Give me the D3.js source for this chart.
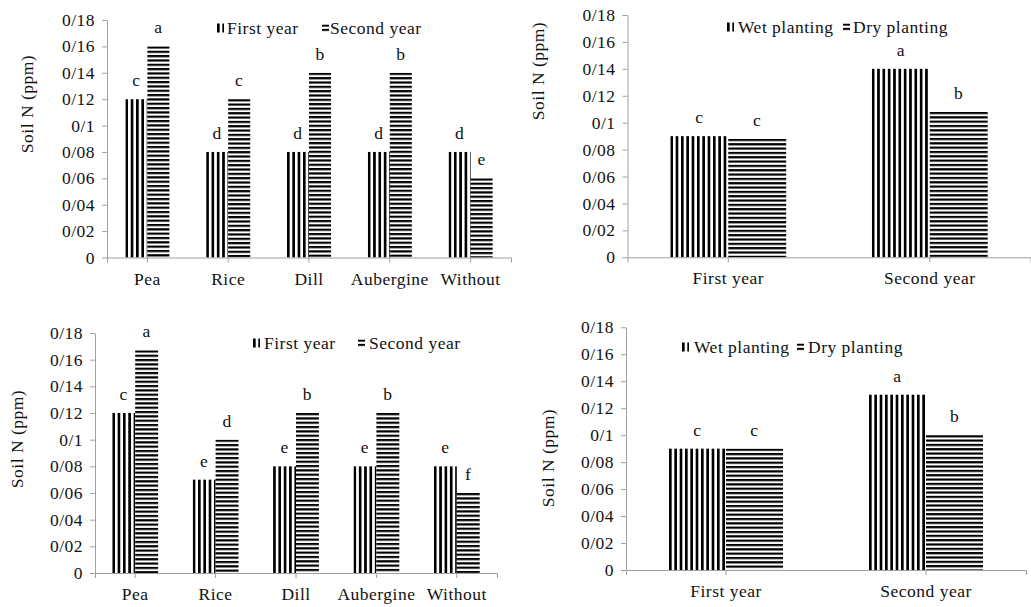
<!DOCTYPE html>
<html>
<head>
<meta charset="utf-8">
<script src="https://cdn.jsdelivr.net/npm/d3@7"></script>
<style>
    body { margin: 0; background: #fff; }
</style>
</head>
<body>
<script>
// categories / series
const cropCats = ["Pea", "Rice", "Dill", "Aubergine", "Without"];
const yearCats = ["First year", "Second year"];
const yearSeries = ["First year", "Second year"];
const plantSeries = ["Wet planting", "Dry planting"];

// y axis ticks (decimal separator is written as "/")
const yTicks = [0, 0.02, 0.04, 0.06, 0.08, 0.1, 0.12, 0.14, 0.16, 0.18];
const yTickLabels = ["0", "0/02", "0/04", "0/06", "0/08", "0/1", "0/12", "0/14", "0/16", "0/18"];

// top left
const tlFirst = [0.12, 0.08, 0.08, 0.08, 0.08];
const tlSecond = [0.16, 0.12, 0.14, 0.14, 0.06];
const tlFirstLetters = ["c", "d", "d", "d", "d"];
const tlSecondLetters = ["a", "c", "b", "b", "e"];

// top right
const trWet = [0.09, 0.14];
const trDry = [0.088, 0.108];
const trWetLetters = ["c", "a"];
const trDryLetters = ["c", "b"];

// bottom left
const blFirst = [0.12, 0.07, 0.08, 0.08, 0.08];
const blSecond = [0.167, 0.1, 0.12, 0.12, 0.06];
const blFirstLetters = ["c", "e", "e", "e", "e"];
const blSecondLetters = ["a", "d", "b", "b", "f"];

// bottom right
const brWet = [0.09, 0.13];
const brDry = [0.09, 0.1];
const brWetLetters = ["c", "a"];
const brDryLetters = ["c", "b"];

const yTitle = "Soil N (ppm)";
const axisColor = "#a0a0a0";
const font = "Liberation Serif";

let svg = d3.select("body").append("svg")
    .attr("width", 1031)
    .attr("height", 607)
    .attr("font-family", font);
let defs = svg.append("defs");

let pid = 0;
// stripe pattern anchored at the bar's corner, "v" = vertical lines, "h" = horizontal lines
function stripes(kind, x0, y0) {
    const id = "pat" + (pid++);
    let p = defs.append("pattern")
        .attr("id", id)
        .attr("patternUnits", "userSpaceOnUse")
        .attr("x", x0)
        .attr("y", y0);
    if (kind === "v") {
        p.attr("width", 5.33).attr("height", 10);
        p.append("rect").attr("width", 5.33).attr("height", 10).attr("fill", "#fff");
        p.append("rect").attr("width", 2.67).attr("height", 10).attr("fill", "#000");
    } else {
        p.attr("width", 10).attr("height", 4.33);
        p.append("rect").attr("width", 10).attr("height", 4.33).attr("fill", "#fff");
        p.append("rect").attr("width", 10).attr("height", 2.2).attr("fill", "#000");
    }
    return "url(#" + id + ")";
}

function styleText(sel) {
    return sel.attr("font-family", font)
        .attr("font-size", 17.5)
        .attr("letter-spacing", 0.5)
        .attr("fill", "#111");
}

const charts = [
    {
        cats: cropCats, series: yearSeries,
        values: [tlFirst, tlSecond], letters: [tlFirstLetters, tlSecondLetters],
        box: {left: 107, right: 511, top: 20, bottom: 257.5}, pad: 0.455,
        title: {x: 27, y: 104},
        legend: {y: 28, items: [[217, 227], [322, 330]]}
    },
    {
        cats: yearCats, series: plantSeries,
        values: [trWet, trDry], letters: [trWetLetters, trDryLetters],
        box: {left: 627.5, right: 1030.5, top: 15, bottom: 257.3}, pad: 0.425,
        title: {x: 538, y: 71},
        legend: {y: 27, items: [[727, 738], [843, 853]]}
    },
    {
        cats: cropCats, series: yearSeries,
        values: [blFirst, blSecond], letters: [blFirstLetters, blSecondLetters],
        box: {left: 95, right: 497, top: 333, bottom: 573}, pad: 0.43,
        title: {x: 17, y: 439},
        legend: {y: 343, items: [[253, 264], [358, 369]]}
    },
    {
        cats: yearCats, series: plantSeries,
        values: [brWet, brDry], letters: [brWetLetters, brDryLetters],
        box: {left: 626, right: 1026, top: 327.3, bottom: 570}, pad: 0.43,
        title: {x: 548, y: 458},
        legend: {y: 347, items: [[682, 694], [797, 808]]}
    }
];

function drawChart(c) {
    let g = svg.append("g");
    const b = c.box;

    let x = d3.scaleBand()
        .domain(c.cats)
        .range([b.left, b.right])
        .paddingInner(c.pad)
        .paddingOuter(c.pad / 2);

    let x1 = d3.scaleBand()
        .domain(c.series)
        .range([0, x.bandwidth()]);

    let y = d3.scaleLinear()
        .domain([0, 0.18])
        .range([b.bottom, b.top]);

    // bars
    c.series.forEach(function (s, si) {
        c.cats.forEach(function (cat, ci) {
            const v = c.values[si][ci];
            const bx = x(cat) + x1(s);
            const by = y(v);
            g.append("rect")
                .attr("x", bx)
                .attr("y", by)
                .attr("width", x1.bandwidth())
                .attr("height", y(0) - by)
                .attr("fill", stripes(si === 0 ? "v" : "h", bx, by));
            styleText(g.append("text"))
                .attr("x", bx + x1.bandwidth() / 2)
                .attr("y", by - 13)
                .attr("text-anchor", "middle")
                .text(c.letters[si][ci]);
        });
    });

    // axes
    let yAxis = g.append("g")
        .attr("transform", "translate(" + b.left + ",0)")
        .call(d3.axisLeft(y)
            .tickValues(yTicks)
            .tickFormat(function (d, i) { return yTickLabels[i]; })
            .tickSizeInner(5)
            .tickSizeOuter(0)
            .tickPadding(7));

    let xAxis = g.append("g")
        .attr("transform", "translate(0," + b.bottom + ")")
        .call(d3.axisBottom(x)
            .tickSizeInner(5)
            .tickSizeOuter(5));

    [yAxis, xAxis].forEach(function (a) {
        a.attr("font-size", 17.5).attr("font-family", font);
        a.select(".domain").attr("stroke", axisColor);
        a.selectAll(".tick line").attr("stroke", axisColor);
        styleText(a.selectAll(".tick text"));
    });
    xAxis.selectAll(".tick text").attr("y", 27).attr("dy", null);

    // y title
    styleText(g.append("text"))
        .attr("transform", "translate(" + c.title.x + "," + c.title.y + ") rotate(-90)")
        .attr("text-anchor", "middle")
        .attr("dy", "0.35em")
        .text(yTitle);

    // legend
    c.series.forEach(function (s, si) {
        const it = c.legend.items[si];
        const mh = si === 0 ? 9 : 7;
        const mx = it[0], my = c.legend.y - mh / 2;
        g.append("rect")
            .attr("x", mx)
            .attr("y", my)
            .attr("width", 7)
            .attr("height", mh)
            .attr("fill", stripes(si === 0 ? "v" : "h", mx, my));
        styleText(g.append("text"))
            .attr("x", it[1])
            .attr("y", c.legend.y + 6)
            .text(s);
    });
}

charts.forEach(drawChart);
</script>
</body>
</html>
